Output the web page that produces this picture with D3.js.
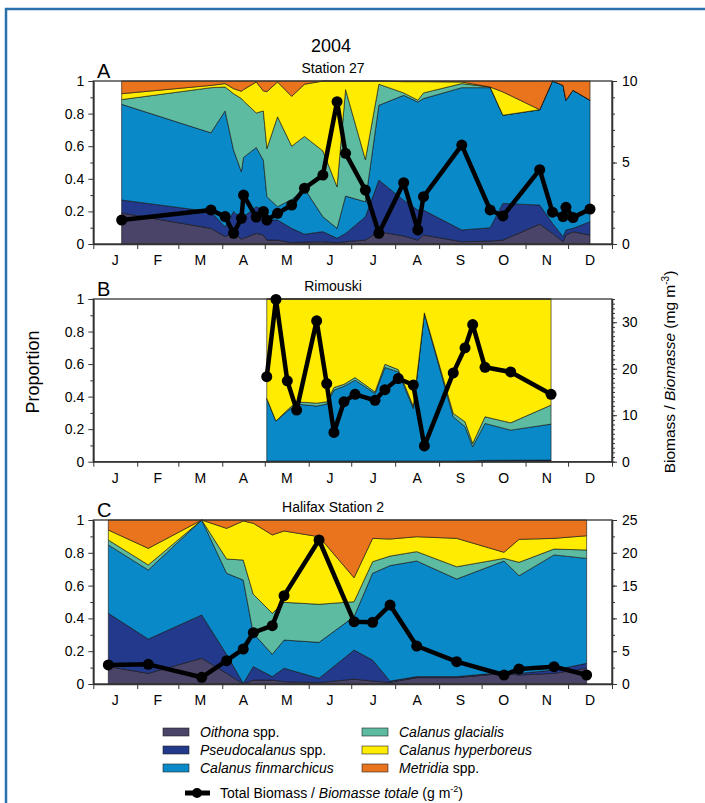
<!DOCTYPE html>
<html><head><meta charset="utf-8">
<script src="https://cdn.jsdelivr.net/npm/d3@7"></script>
<style>
body{margin:0;background:#fff;}
svg text{font-family:"Liberation Sans",Arial,Helvetica,sans-serif;fill:#000;}
</style></head><body>
<svg id="chart" width="705" height="803"></svg>
<script>
// ---------- DATA ----------
const yearTitle = "2004";
const monthLabels = ["J","F","M","A","M","J","J","A","S","O","N","D"];
const monthStarts = [0,31,60,91,121,152,182,213,244,274,305,335,366]; // day-of-year, 2004
const speciesKeys = ["oithona","pseudocalanus","finmarchicus","glacialis","hyperboreus","metridia"];
const speciesColors = ["#4a4468","#23398b","#0a89c9","#5cbba1","#ffec00","#e9741d"];
const propTicks = [0,0.2,0.4,0.6,0.8,1];

// Station 27
const s27Days        = [20,83,93,99,104.5,106,115,120,122.5,130,140,149,162,172,178,192,201.5,219,229,233,260,280,289,315,324,331.5,333.5,338.5,350.5];
const s27Oithona     = [.19,.096,.045,.07,.03,.035,.065,.055,.024,.024,.008,.012,.014,.008,.014,.024,.076,.049,.024,.055,.014,.018,.024,.122,.065,.014,.055,.075,.055];
const s27Pseudo      = [.08,.102,.061,.13,.121,.132,.164,.153,.123,.123,.088,.048,.062,.027,.051,.143,.316,.22,.184,.153,.072,.082,.225,.117,.062,.031,.031,.021,.082];
const s27Finmarch    = [.587,.484,.71,.375,.292,.364,.363,.306,.143,.082,.177,.28,.091,.061,.229,.092,.459,.643,.663,.684,.873,.859,.541,.585,.873,.928,.796,.847,.745];
const s27Glacialis   = [.029,.277,.147,.347,.449,.347,.212,.302,.296,.551,.327,.32,.404,.255,.653,.259,.129,.015,.011,.035,.025,.004,0,0,0,0,0,0,0];
const s27Hyperboreus = [.036,.014,.021,.031,.045,.069,.19,.123,.349,.214,.306,.32,.429,.649,.053,.482,.02,.069,.114,.069,.01,0,.143,0,0,0,0,0,0];
const s27Metridia    = [.078,.027,.016,.047,.063,.053,.006,.061,.065,.006,.094,.02,0,0,0,0,0,.004,.004,.004,.006,.037,.067,.176,0,.027,.118,.057,.118];
const s27Biomass     = [1.47,2.09,1.68,0.66,1.58,3.0,1.65,2.0,1.47,1.88,2.39,3.42,4.23,8.73,5.56,3.31,0.66,3.76,0.86,2.9,6.07,2.09,1.72,4.56,1.95,1.68,2.25,1.62,2.14];
const s27BiomassTicks = [0,5,10];

// Rimouski
const rimDays        = [122.4,128.9,136.9,143.5,157.6,164.7,169.8,176.9,184.7,198.8,205.8,215.2,225.8,233.6,254,262.3,267.7,276.4,294.5,323];
const rimOithona     = [.002,.002,.002,.002,.002,.002,.002,.002,.002,.002,.002,.002,.002,.002,.002,.003,.003,.005,.006,.006];
const rimPseudo      = [.002,.002,.002,.002,.002,.002,.002,.002,.002,.002,.002,.002,.002,.002,.002,.002,.002,.003,.003,.004];
const rimFinmarch    = [.385,.246,.306,.35,.338,.35,.436,.46,.497,.415,.575,.548,.323,.906,.272,.21,.087,.227,.185,.221];
const rimGlacialis   = [0,0,.008,.014,.018,.014,.016,.012,.016,.01,.02,.014,.014,.005,.021,.03,.02,.041,.045,.117];
const rimHyperboreus = [.611,.75,.682,.632,.64,.632,.544,.524,.483,.571,.401,.434,.659,.085,.703,.755,.888,.724,.761,.652];
const rimMetridia    = [0,0,0,0,0,0,0,0,0,0,0,0,0,0,0,0,0,0,0,0];
const rimBiomass     = [18.3,34.9,17.4,11.1,30.3,16.8,6.3,12.9,14.5,13.2,15.5,17.9,16.5,3.4,19.1,24.5,29.5,20.3,19.3,14.5];
const rimBiomassTicks = [0,10,20,30];

// Halifax Station 2
const halDays        = [10.6,38.8,76.5,94.1,105.8,112.9,126.3,134.6,159.3,184,197.1,209.4,228.2,256.4,289.8,300.4,325.1,348.1];
const halOithona     = [.106,.065,.157,.065,0,.024,.024,.014,.008,.03,.018,.01,.039,.039,.065,.055,.065,.096];
const halPseudo      = [.325,.209,.264,.115,.004,.082,.021,.082,.027,.177,.128,.008,.006,.006,.006,.01,.02,.03];
const halFinmarch    = [.417,.421,.579,.495,.63,.203,.136,.172,.219,.204,.529,.704,.705,.595,.679,.595,.702,.64];
const halGlacialis   = [.03,.031,0,.087,.122,.238,.25,.23,.232,.091,.071,.058,.057,.075,.016,.082,.036,.051];
const halHyperboreus = [.061,.101,0,.187,.238,.433,.478,.435,.412,.146,.142,.104,.091,.173,.037,.14,.065,.087];
const halMetridia    = [.061,.173,0,.051,.006,.02,.091,.067,.102,.352,.112,.116,.102,.112,.197,.118,.112,.096];
const halBiomass     = [2.9,3.0,1.02,3.55,5.33,7.82,8.89,13.46,21.95,9.5,9.4,12.04,5.79,3.4,1.37,2.29,2.64,1.37];
const halBiomassTicks = [0,5,10,15,20,25];

const legendLabels = [
  {it:"Oithona", rest:" spp."},
  {it:"Pseudocalanus", rest:" spp."},
  {it:"Calanus finmarchicus", rest:""},
  {it:"Calanus glacialis", rest:""},
  {it:"Calanus hyperboreus", rest:""},
  {it:"Metridia", rest:" spp."}
];

// ---------- LAYOUT ----------
const svg = d3.select("#chart");
const X0 = 93.3, X1 = 612;
const x = d3.scaleLinear().domain([0,366]).range([X0,X1]);

const panels = [
  {letter:"A", title:"Station 27", top:81, bottom:244, bmax:10, bticks:s27BiomassTicks, bminor:d3.range(0,10.01,1),
   days:s27Days, cols:[s27Oithona,s27Pseudo,s27Finmarch,s27Glacialis,s27Hyperboreus,s27Metridia], biomass:s27Biomass},
  {letter:"B", title:"Rimouski", top:299, bottom:461.7, bmax:35, bticks:rimBiomassTicks, bminor:d3.range(0,35.01,1),
   days:rimDays, cols:[rimOithona,rimPseudo,rimFinmarch,rimGlacialis,rimHyperboreus,rimMetridia], biomass:rimBiomass},
  {letter:"C", title:"Halifax Station 2", top:520, bottom:684, bmax:25, bticks:halBiomassTicks, bminor:d3.range(0,25.01,2.5),
   days:halDays, cols:[halOithona,halPseudo,halFinmarch,halGlacialis,halHyperboreus,halMetridia], biomass:halBiomass}
];

// outer blue frame
svg.append("path").attr("d","M6,803 L6,9 L705,9").attr("fill","none").attr("stroke","#2a71ab").attr("stroke-width",2.5);

svg.append("text").attr("x",331).attr("y",52).attr("text-anchor","middle").attr("font-size",18).text(yearTitle);

const axisColor = "#333";

panels.forEach(p => {
  const y = d3.scaleLinear().domain([0,1]).range([p.bottom,p.top]);
  const yb = d3.scaleLinear().domain([0,p.bmax]).range([p.bottom,p.top]);
  const g = svg.append("g");

  const rows = p.days.map((d,i)=>{
    const r = {day:d};
    speciesKeys.forEach((k,j)=> r[k] = p.cols[j][i]);
    return r;
  });
  const series = d3.stack().keys(speciesKeys)(rows);
  const area = d3.area().x(d=>x(d.data.day)).y0(d=>y(d[0])).y1(d=>y(d[1]));
  g.selectAll("path.band").data(series).join("path")
    .attr("class","band").attr("d",area)
    .attr("fill",(d,i)=>speciesColors[i])
    .attr("stroke","#111").attr("stroke-width",0.6).attr("stroke-linejoin","round");

  // plot frame
  g.append("rect").attr("x",X0).attr("y",p.top).attr("width",X1-X0).attr("height",p.bottom-p.top)
    .attr("fill","none").attr("stroke",axisColor).attr("stroke-width",1.3);

  // left axis
  const la = g.append("g").attr("transform",`translate(${X0},0)`)
    .call(d3.axisLeft(y).tickValues(propTicks).tickSize(5).tickSizeOuter(0).tickPadding(4)
      .tickFormat(d=> d===0?"0":d===1?"1":d3.format(".1f")(d)));
  g.append("g").attr("transform",`translate(${X0},0)`)
    .call(d3.axisLeft(y).tickValues([.1,.3,.5,.7,.9]).tickSize(3).tickSizeOuter(0).tickFormat(""));

  // right axis
  g.append("g").attr("transform",`translate(${X1},0)`)
    .call(d3.axisRight(yb).tickValues(p.bticks).tickSize(5).tickSizeOuter(0).tickPadding(5));
  g.append("g").attr("transform",`translate(${X1},0)`)
    .call(d3.axisRight(yb).tickValues(p.bminor).tickSize(3).tickSizeOuter(0).tickFormat(""));

  // bottom axis
  g.append("g").attr("transform",`translate(0,${p.bottom})`)
    .call(d3.axisBottom(x).tickValues(monthStarts).tickSize(5).tickSizeOuter(0).tickFormat(""));
  g.selectAll("text.month").data(monthLabels).join("text").attr("class","month")
    .attr("x",(d,i)=>x((monthStarts[i]+monthStarts[i+1])/2))
    .attr("y",p.bottom+21).attr("text-anchor","middle").attr("font-size",14).text(d=>d);

  g.selectAll(".domain").attr("stroke",axisColor).attr("stroke-width",1.3);
  g.selectAll(".tick line").attr("stroke",axisColor);
  g.selectAll(".tick text").attr("font-size",14).attr("fill","#000")
    .attr("font-family","'Liberation Sans',Arial,Helvetica,sans-serif");

  // biomass line
  const pts = p.days.map((d,i)=>[d,p.biomass[i]]);
  g.append("path").datum(pts)
    .attr("d",d3.line().x(d=>x(d[0])).y(d=>yb(d[1])))
    .attr("fill","none").attr("stroke","#000").attr("stroke-width",4.5).attr("stroke-linejoin","round");
  g.selectAll("circle.bm").data(pts).join("circle").attr("class","bm")
    .attr("cx",d=>x(d[0])).attr("cy",d=>yb(d[1])).attr("r",5.5).attr("fill","#000");

  // labels
  g.append("text").attr("x",97).attr("y",p.top-3).attr("font-size",20).text(p.letter);
  g.append("text").attr("x",333).attr("y",p.top-8).attr("text-anchor","middle").attr("font-size",14).text(p.title);
});

// axis titles
svg.append("text").attr("transform","translate(39,372) rotate(-90)").attr("text-anchor","middle")
  .attr("font-size",18).text("Proportion");
const rt = svg.append("text").attr("transform","translate(675,372) rotate(-90)").attr("text-anchor","middle")
  .attr("font-size",15.5);
rt.append("tspan").text("Biomass / ");
rt.append("tspan").attr("font-style","italic").text("Biomasse");
rt.append("tspan").text(" (mg m");
rt.append("tspan").attr("font-size",10).attr("dy",-6).text("-3");
rt.append("tspan").attr("dy",6).text(")");

// legend
const legX = [163,362], legY = [732,750,768];
const lg = svg.append("g");
legendLabels.forEach((l,i)=>{
  const cx = legX[Math.floor(i/3)], cy = legY[i%3];
  lg.append("rect").attr("x",cx).attr("y",cy-4).attr("width",26).attr("height",8)
    .attr("fill",speciesColors[i]).attr("stroke","#222").attr("stroke-width",0.6);
  const t = lg.append("text").attr("x",cx+37).attr("y",cy+5).attr("font-size",14);
  t.append("tspan").attr("font-style","italic").text(l.it);
  if (l.rest) t.append("tspan").text(l.rest);
});
lg.append("line").attr("x1",185).attr("x2",210).attr("y1",793).attr("y2",793).attr("stroke","#000").attr("stroke-width",5);
lg.append("circle").attr("cx",197).attr("cy",793).attr("r",5).attr("fill","#000");
const bt = lg.append("text").attr("x",220).attr("y",798).attr("font-size",14);
bt.append("tspan").text("Total Biomass / ");
bt.append("tspan").attr("font-style","italic").text("Biomasse totale");
bt.append("tspan").text(" (g m");
bt.append("tspan").attr("font-size",9).attr("dy",-6).text("-2");
bt.append("tspan").attr("dy",6).text(")");
</script>
</body></html>
